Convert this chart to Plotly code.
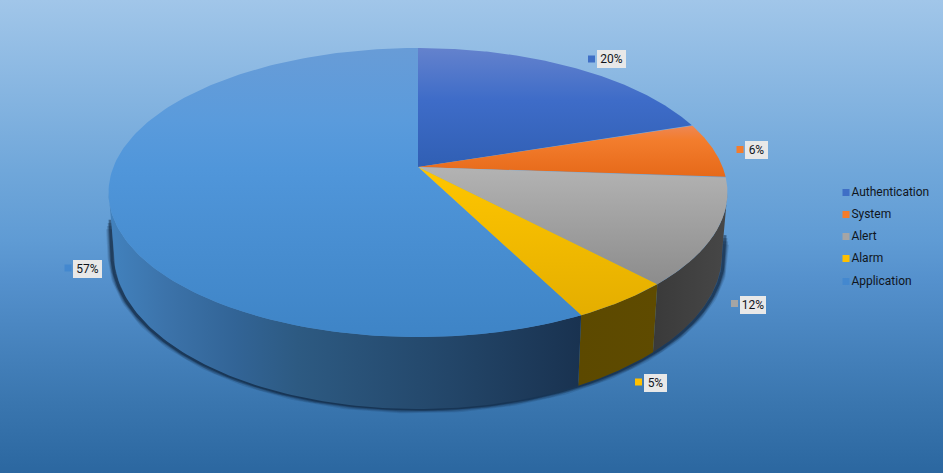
import numpy as np
import plotly.graph_objects as go

# ---- data ----
categories = ["Authentication", "System", "Alert", "Alarm", "Application"]
values = [19.9, 6.2, 11.9, 4.55, 57.45]

# ---- styles ----
W, H = 943, 473
FONT = "Roboto"
TEXT = "#10151c"
swatch_colors = ["#3f6fc6", "#f47c2c", "#a5a5a5", "#ffc000", "#4488cf"]
top_scales = [
    [[0, "#6482cd"], [0.44, "#3e6cc8"], [1, "#305fb4"]],
    [[0, "#ee8755"], [0.28, "#f37d2d"], [1, "#e66919"]],
    [[0, "#b3b3b3"], [1, "#8c8c8c"]],
    [[0, "#ffc600"], [1, "#e4ae00"]],
    [[0, "#689cd7"], [0.25, "#5a9bdc"], [0.42, "#5096da"], [1, "#3e84c6"]],
]
wall_scales = [
    None,
    None,
    [[0, "#3a3a3a"], [1, "#474747"]],
    [[0, "#5c4900"], [1, "#5f4b00"]],
    [[0, "#4282be"], [0.12, "#3c73aa"], [0.27, "#326496"], [0.40, "#2d5a82"],
     [0.72, "#234669"], [1, "#193250"]],
]
bg_stops = [(0.00, "#a1c6e9"), (0.36, "#70a7da"), (0.51, "#5f9bd4"),
            (0.59, "#5591cd"), (0.85, "#3a76af"), (1.00, "#2b67a0")]

# ---- layout of the drawing (pixels) ----
CX = 418
K = 0.1765                 # perspective of the disc
TOP = dict(yc=167, A=140.0, B=304.6)
BOTTOM = dict(yc=226.6, A=150.2, B=299.2)
SHADOW = dict(yc=226.6, A=150.2, B=301.2)
label_centres = [(611.5, 58.5), (756.5, 149.5), (753, 304.5), (655.5, 382.5), (87.5, 268.5)]
label_widths = [29, 23, 26, 23, 29]
swatch_centres = [(591.5, 59), (740, 149.5), (734.5, 303.5), (638.5, 382), (68, 268)]
legend_x = 846
legend_y = [192.5, 214.5, 236.5, 258.5, 281.5]
# width, alpha, how far down the left / right silhouette each shadow layer begins
shadow_layers = [(9, 0.12, 0.60, 0.85), (7, 0.18, 0.55, 0.80), (5, 0.28, 0.50, 0.75), (3, 0.45, 0.45, 0.70)]


def rim(th_deg, plane):
    th = np.radians(th_deg)
    X, Y = np.sin(th), np.cos(th)
    d = 1 + K * Y
    return CX + plane["B"] * X / d, plane["yc"] - plane["A"] * Y / d


shares = np.array(values) / sum(values)
edges = np.concatenate([[0], np.cumsum(shares)]) * 360
TANGENT_R, TANGENT_L = 100, 260

fig = go.Figure()


def add_poly(x, y, **kw):
    fig.add_trace(go.Scatter(x=x, y=y, mode="lines", fill="toself", line=dict(width=0),
                             hoverinfo="skip", showlegend=False, **kw))


# background
add_poly([0, W, W, 0, 0], [0, 0, H, H, 0],
         fillgradient=dict(type="vertical", start=0, stop=H,
                           colorscale=[[p, c] for p, c in bg_stops]))

# soft shadow along the lower rim and up the silhouette
sx, sy = rim(np.linspace(TANGENT_R, TANGENT_L, 200), SHADOW)
txr, tyr = rim(TANGENT_R, TOP)
txl, tyl = rim(TANGENT_L, TOP)
for w, a, fl, fr in shadow_layers:
    px = np.concatenate([[txr + fr * (sx[0] - txr)], sx, [txl + fl * (sx[-1] - txl)]])
    py = np.concatenate([[tyr + fr * (sy[0] - tyr)], sy, [tyl + fl * (sy[-1] - tyl)]])
    fig.add_trace(go.Scatter(x=px, y=py, mode="lines", hoverinfo="skip", showlegend=False,
                             line=dict(width=w, color=f"rgba(10,28,50,{a})")))

# walls: only the front part of the rim is visible
for i in range(len(values)):
    a, b = max(edges[i], TANGENT_R), min(edges[i + 1], TANGENT_L)
    if b <= a:
        continue
    t = np.linspace(a, b, 100)
    x1, y1 = rim(t, TOP)
    x2, y2 = rim(t[::-1], BOTTOM)
    x = np.concatenate([x1, x2, x1[:1]])
    y = np.concatenate([y1, y2, y1[:1]])
    add_poly(x, y, fillgradient=dict(
        type="horizontal", start=float(x.min()), stop=float(x.max()),
        colorscale=wall_scales[i]))

# top faces
for i in range(len(values)):
    t = np.linspace(edges[i], edges[i + 1], 160)
    xr, yr = rim(t, TOP)
    x = np.concatenate([[CX], xr, [CX]])
    y = np.concatenate([[TOP["yc"]], yr, [TOP["yc"]]])
    add_poly(x, y, fillgradient=dict(
        type="vertical", start=float(y.min()), stop=float(y.max()),
        colorscale=top_scales[i]))

# data-label swatches and boxes
for i, v in enumerate(values):
    fig.add_trace(go.Scatter(x=[swatch_centres[i][0]], y=[swatch_centres[i][1]], mode="markers",
                             marker=dict(symbol="square", size=7, color=swatch_colors[i], line=dict(width=0)),
                             hoverinfo="skip", showlegend=False))
    fig.add_annotation(x=label_centres[i][0], y=label_centres[i][1], xref="x", yref="y",
                       text=f"{round(v)}%", showarrow=False, bgcolor="#e8e8e8",
                       width=label_widths[i], height=18, borderpad=0, borderwidth=0,
                       font=dict(family=FONT, size=12, color=TEXT))

# legend
for i, name in enumerate(categories):
    fig.add_trace(go.Scatter(x=[legend_x], y=[legend_y[i]], mode="markers+text", text=[name],
                             textposition="middle right",
                             textfont=dict(family=FONT, size=12, color=TEXT),
                             marker=dict(symbol="square", size=7, color=swatch_colors[i], line=dict(width=0)),
                             hoverinfo="skip", showlegend=False, name=name))

fig.update_layout(
    width=W, height=H, margin=dict(l=0, r=0, t=0, b=0, pad=0), autosize=False,
    paper_bgcolor="#5f9bd4", plot_bgcolor="rgba(0,0,0,0)", showlegend=False,
    xaxis=dict(visible=False, range=[0, W], fixedrange=True),
    yaxis=dict(visible=False, range=[H, 0], fixedrange=True),
)
fig.write_html("out.html", config=dict(displayModeBar=False),
               post_script="document.body.style.margin='0';")
